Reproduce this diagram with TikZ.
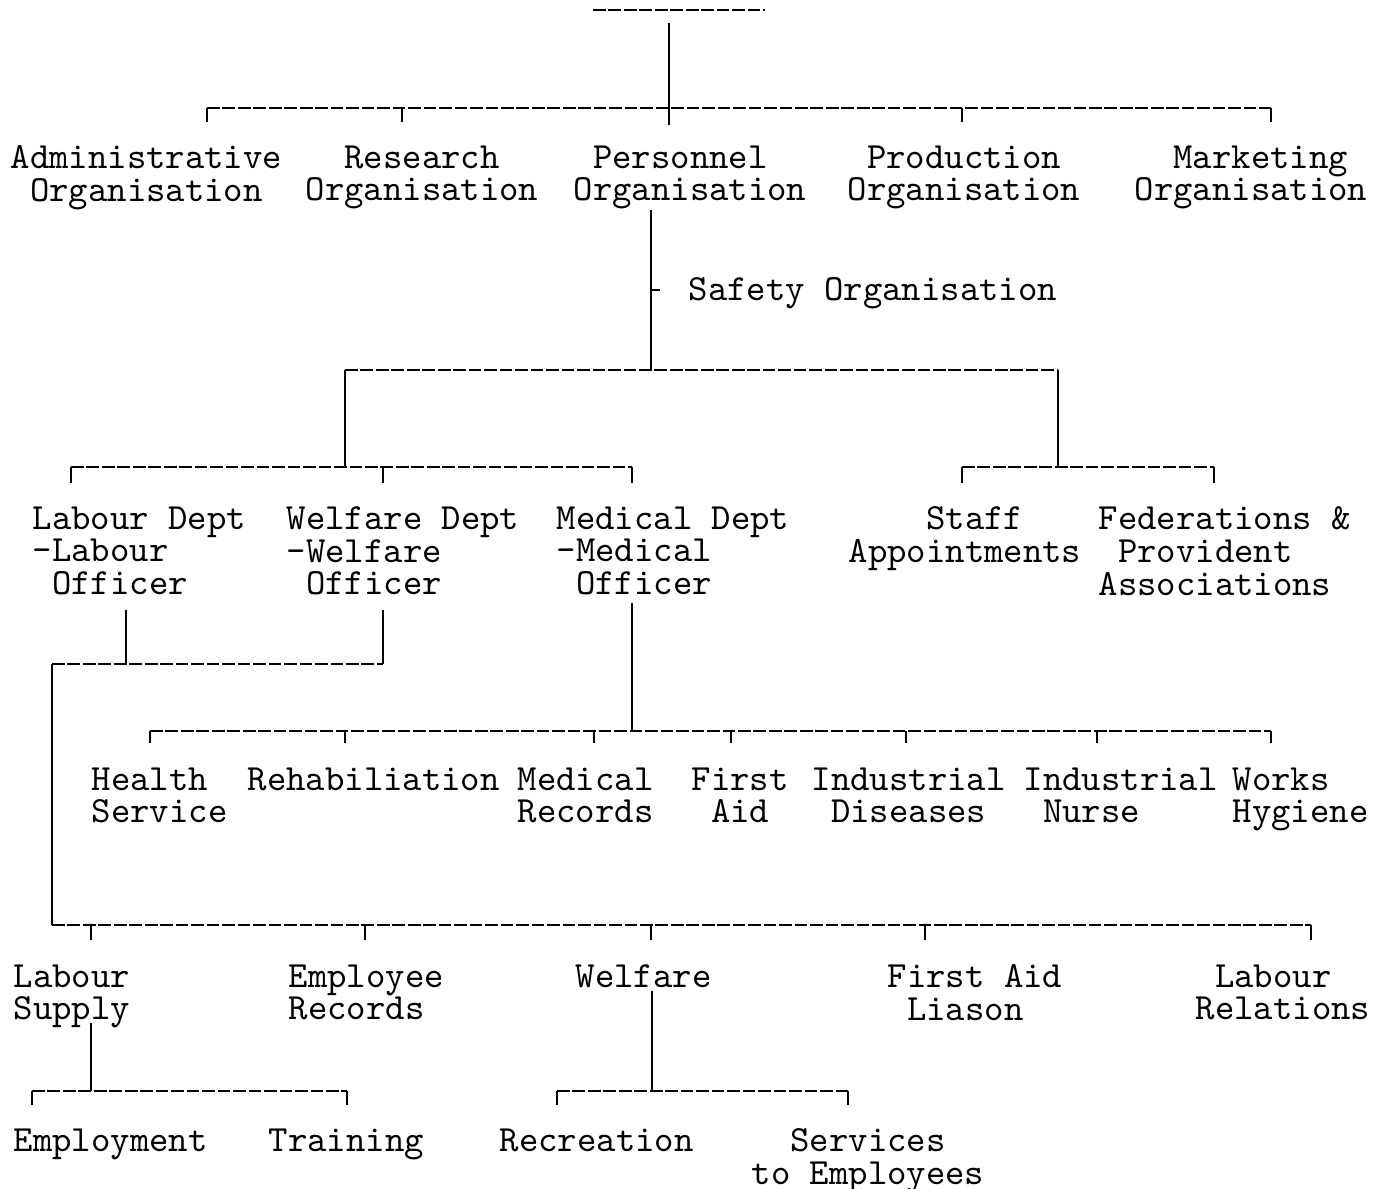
\documentclass[tikz,border=0pt]{standalone}
\usepackage{fontspec}
\usepackage{tikz}
\newcommand{\lblfont}{\ttfamily\fontsize{10.5pt}{9.3pt}\selectfont}
\newcommand{\ts}{\phantom{x}}
\tikzset{
  lbl/.style={anchor=north west, inner sep=0pt, align=left, font=\lblfont},
  link/.style={line width=0.6pt},
  bar/.style={line width=0.6pt, dash pattern=on 3.6pt off 0.8pt},
}
\begin{document}
\begin{tikzpicture}[x=0.01cm, y=-0.01cm]
  \useasboundingbox (0,0) rectangle (1388,1189);

  % Head and first level
  \coordinate (headL) at (593,10);
  \coordinate (headR) at (765,10);
  \draw[bar] (headL) -- (headR);
  \coordinate (head) at (669,23);
  \coordinate (j1L) at (207,108);
  \coordinate (j1R) at (1271,108);
  \draw[link] (head) -- (669,125);
  \draw[bar] (j1L) -- (j1R);
  \foreach \x in {207,402,962,1271} {
    \draw[link] (\x,108) -- ++(0,14);
  }

  \node[lbl] (admin) at (10,145) {Administrative\\\ts Organisation};
  \node[lbl] (research) at (305,145) {\ts\ts Research\\Organisation};
  \node[lbl] (personnel) at (573,145) {\ts Personnel\\Organisation};
  \node[lbl] (production) at (847,145) {\ts Production\\Organisation};
  \node[lbl] (marketing) at (1134,145) {\ts\ts Marketing\\Organisation};

  % Safety
  \coordinate (j2) at (651,370);
  \draw[link] (651,210) -- (j2);
  \draw[link] (651,290) -- ++(9,0);
  \node[lbl] (safety) at (688,277) {Safety Organisation};

  % Departments
  \coordinate (j2L) at (345,370);
  \coordinate (j2R) at (1058,370);
  \draw[bar] (j2L) -- (j2R);
  \draw[link] (j2L) -- (345,467);
  \draw[link] (j2R) -- (1058,467);
  \draw[bar] (71,467) -- (632,467);
  \draw[bar] (962,467) -- (1214,467);
  \foreach \x in {71,383,632,962,1214} {
    \draw[link] (\x,467) -- ++(0,16);
  }

  \node[lbl] (labdept) at (32,506) {Labour Dept\\-Labour\\\ts Officer};
  \node[lbl] (weldept) at (286,506) {Welfare Dept\\-Welfare\\\ts Officer};
  \node[lbl] (meddept) at (556,506) {Medical Dept\\-Medical\\\ts Officer};
  \node[lbl] (staff) at (848,506) {\ts\ts\ts\ts Staff\\Appointments};
  \node[lbl] (fed) at (1098,506) {Federations \&\\\ts Provident\\Associations};

  % Medical services
  \coordinate (j3) at (632,731);
  \draw[link] (632,603) -- (j3);
  \draw[bar] (150,731) -- (1271,731);
  \foreach \x in {150,345,594,731,906,1097,1271} {
    \draw[link] (\x,731) -- ++(0,12);
  }

  \node[lbl] (health) at (91,767) {Health\\Service};
  \node[lbl] (rehab) at (247,767) {Rehabiliation};
  \node[lbl] (medrec) at (517,767) {Medical\\Records};
  \node[lbl] (firstaid) at (691,767) {First\\\ts Aid};
  \node[lbl] (inddis) at (811,767) {Industrial\\\ts Diseases};
  \node[lbl] (nurse) at (1023,767) {Industrial\\\ts Nurse};
  \node[lbl] (hygiene) at (1232,767) {Works\\Hygiene};

  % Labour and welfare services
  \coordinate (j4) at (52,664);
  \draw[link] (126,610) -- (126,664);
  \draw[link] (383,610) -- (383,664);
  \draw[bar] (j4) -- (383,664);
  \coordinate (j5) at (52,925);
  \draw[link] (j4) -- (j5);
  \draw[bar] (j5) -- (1311,925);
  \foreach \x in {91,365,651,925,1311} {
    \draw[link] (\x,925) -- ++(0,15);
  }

  \node[lbl] (lsupply) at (13,964) {Labour\\Supply};
  \node[lbl] (emprec) at (288,964) {Employee\\Records};
  \node[lbl] (welfare) at (575,964) {Welfare};
  \node[lbl] (faliason) at (887,964) {First Aid\\\ts Liason};
  \node[lbl] (labrel) at (1195,964) {\ts Labour\\Relations};

  % Bottom level
  \draw[link] (91,1023) -- (91,1091);
  \draw[bar] (32,1091) -- (347,1091);
  \draw[link] (652,991) -- (652,1091);
  \draw[bar] (557,1091) -- (848,1091);
  \foreach \x in {32,347,557,848} {
    \draw[link] (\x,1091) -- ++(0,14);
  }

  \node[lbl] (employment) at (13,1128) {Employment};
  \node[lbl] (training) at (268,1128) {Training};
  \node[lbl] (recreation) at (499,1128) {Recreation};
  \node[lbl] (services) at (751,1128) {\ts\ts Services\\to Employees};
\end{tikzpicture}
\end{document}
